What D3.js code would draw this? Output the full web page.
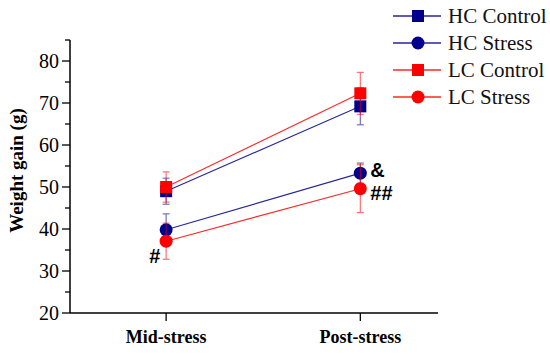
<!DOCTYPE html>
<html>
<head>
<meta charset="utf-8">
<script src="https://cdn.jsdelivr.net/npm/d3@7"></script>
<style>
  html, body { margin: 0; padding: 0; background: #fff; }
  svg { display: block; }
</style>
</head>
<body>
<div id="chart"></div>
<script>
  const CATEGORIES = ['Mid-stress', 'Post-stress'];
  const SERIES_NAMES = ['HC Control', 'HC Stress', 'LC Control', 'LC Stress'];
  const HC_CONTROL = [49.0, 69.2];
  const HC_CONTROL_ERR = [3.1, 4.4];
  const HC_STRESS = [39.8, 53.3];
  const HC_STRESS_ERR = [3.8, 2.4];
  const LC_CONTROL = [50.0, 72.3];
  const LC_CONTROL_ERR = [3.6, 5.0];
  const LC_STRESS = [37.1, 49.6];
  const LC_STRESS_ERR = [4.3, 5.7];
  const Y_TICKS = [20, 30, 40, 50, 60, 70, 80];
  // significance marks: [series, category index, text]
  const MARKS = [
    ['HC Stress', 1, '&'],
    ['LC Stress', 1, '##'],
    ['LC Stress', 0, '#'],
  ];

  const NAVY = '#00008b';
  const RED = '#ff0000';
  const SERIF = "'Liberation Serif', 'Times New Roman', serif";
  const SANS = "'Liberation Sans', Arial, sans-serif";

  const series = [
    { name: 'HC Control', values: HC_CONTROL, err: HC_CONTROL_ERR, color: NAVY, shape: 'square' },
    { name: 'HC Stress', values: HC_STRESS, err: HC_STRESS_ERR, color: NAVY, shape: 'circle' },
    { name: 'LC Control', values: LC_CONTROL, err: LC_CONTROL_ERR, color: RED, shape: 'square' },
    { name: 'LC Stress', values: LC_STRESS, err: LC_STRESS_ERR, color: RED, shape: 'circle' },
  ];

  const W = 550, H = 354;
  const svg = d3.select('#chart').append('svg').attr('width', W).attr('height', H)
    .style('font-family', SERIF);

  // x positions are category index (1, 2) on a linear scale
  const x = d3.scaleLinear().domain([0.505, 2.4]).range([70, 438]);
  const y = d3.scaleLinear().domain([20, 85]).range([313, 40]);

  // Y axis
  const yAxis = svg.append('g').attr('transform', 'translate(70,0)');
  yAxis.append('line').attr('x1', 0).attr('x2', 0).attr('y1', y(85)).attr('y2', y(20))
    .attr('stroke', '#000').attr('stroke-width', 1.5);
  d3.range(20, 86, 5).forEach(v => {
    const major = v % 10 === 0;
    yAxis.append('line')
      .attr('x1', major ? -8 : -5).attr('x2', 0)
      .attr('y1', y(v)).attr('y2', y(v))
      .attr('stroke', '#000').attr('stroke-width', 1.3);
  });
  yAxis.selectAll('.ytick').data(Y_TICKS).enter().append('text')
    .attr('x', -11).attr('y', d => y(d)).attr('dy', '0.35em')
    .attr('text-anchor', 'end').style('font-family', SERIF)
    .style('font-size', '20px').text(d => d);

  svg.append('text')
    .attr('transform', `translate(23,${(y(85) + y(20)) / 2 - 6}) rotate(-90)`)
    .attr('text-anchor', 'middle').style('font-family', SERIF)
    .style('font-size', '19px').style('font-weight', 'bold')
    .text('Weight gain (g)');

  // X axis
  const xAxis = svg.append('g');
  xAxis.append('line').attr('x1', x.range()[0]).attr('x2', x.range()[1])
    .attr('y1', y(20)).attr('y2', y(20)).attr('stroke', '#000').attr('stroke-width', 1.5);
  CATEGORIES.forEach((c, i) => {
    xAxis.append('line').attr('x1', x(i + 1)).attr('x2', x(i + 1))
      .attr('y1', y(20)).attr('y2', y(20) + 8).attr('stroke', '#000').attr('stroke-width', 1.3);
    xAxis.append('text').attr('x', x(i + 1)).attr('y', y(20) + 30)
      .attr('text-anchor', 'middle').style('font-family', SERIF)
      .style('font-size', '18px').style('font-weight', 'bold')
      .text(c);
  });

  // Series
  function drawMarker(g, s, cx, cy) {
    if (s.shape === 'square') {
      g.append('rect').attr('x', cx - 6).attr('y', cy - 6).attr('width', 12).attr('height', 12)
        .attr('fill', s.color);
    } else {
      g.append('circle').attr('cx', cx).attr('cy', cy).attr('r', 6.5).attr('fill', s.color);
    }
  }

  const line = d3.line().x((d, i) => x(i + 1)).y(d => y(d));

  series.forEach(s => {
    const g = svg.append('g');
    g.append('path').attr('d', line(s.values)).attr('fill', 'none')
      .attr('stroke', s.color).attr('stroke-width', 1.1).attr('opacity', 0.85);
    s.values.forEach((v, i) => {
      const cx = x(i + 1);
      const e = s.err[i];
      const eb = g.append('g').attr('stroke', s.color).attr('stroke-width', 1.1).attr('opacity', 0.6);
      eb.append('line').attr('x1', cx).attr('x2', cx).attr('y1', y(v - e)).attr('y2', y(v + e));
      [v - e, v + e].forEach(t => {
        eb.append('line').attr('x1', cx - 3.5).attr('x2', cx + 3.5).attr('y1', y(t)).attr('y2', y(t));
      });
      drawMarker(g, s, cx, y(v));
    });
  });

  // Significance marks
  MARKS.forEach(([name, i, txt]) => {
    const s = series.find(d => d.name === name);
    const cx = x(i + 1), cy = y(s.values[i]);
    const t = svg.append('text').style('font-family', SANS)
      .style('font-size', '20px').style('font-weight', 'bold').text(txt);
    if (i === 1) t.attr('x', cx + 10).attr('y', cy + (txt === '&' ? 4 : 11));
    else t.attr('x', cx - 17).attr('y', cy + 22);
  });

  // Legend
  const legend = svg.append('g').attr('transform', 'translate(393,16)');
  series.forEach((s, i) => {
    const row = legend.append('g').attr('transform', `translate(0,${i * 27})`);
    row.append('line').attr('x1', 0).attr('x2', 48).attr('y1', 0).attr('y2', 0)
      .attr('stroke', s.color).attr('stroke-width', 1.3).attr('opacity', 0.85);
    drawMarker(row, s, 25, 0);
    row.append('text').attr('x', 55).attr('y', 0).attr('dy', '0.35em')
      .style('font-family', SERIF)
      .style('font-size', '21px').style('fill', '#111').text(SERIES_NAMES[i]);
  });
</script>
</body>
</html>
